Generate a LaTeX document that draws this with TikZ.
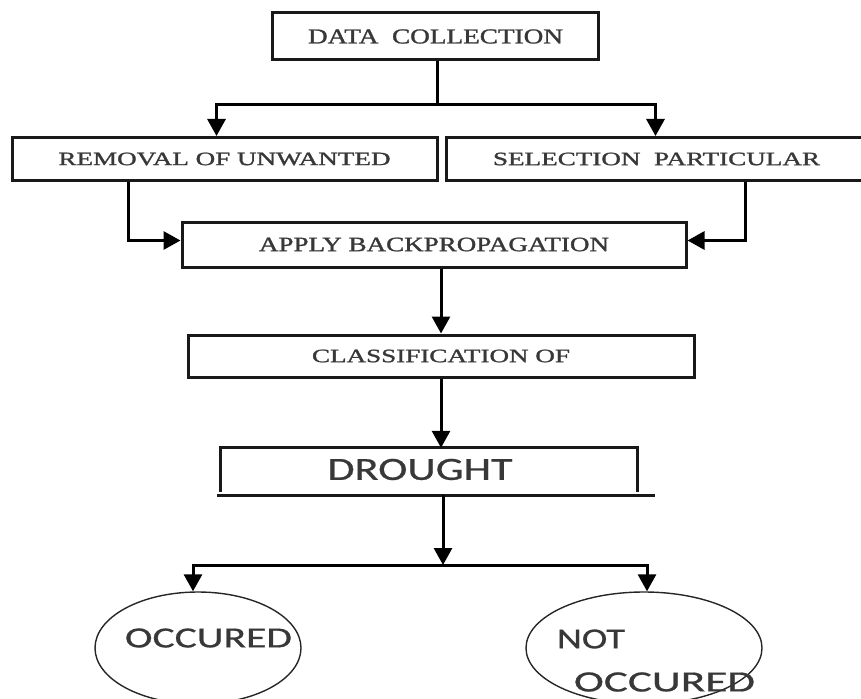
\documentclass[tikz,border=0pt]{standalone}
\usepackage{fontspec}
\setmainfont{Liberation Serif}[FakeBold=1.2]
\newfontfamily\labelsans{Carlito}[FakeBold=0.6]
\usetikzlibrary{arrows.meta,shapes.geometric}
% set a label to an exact width and cap height (in pt)
\newcommand\fittext[3]{\resizebox{#1pt}{#2pt}{#3}}

\begin{document}
\begin{tikzpicture}[x=1pt,y=-1pt,
  box/.style={draw=black!90, line width=3pt, inner sep=0pt, text=black!78},
  boxline/.style={draw=black!90, line width=2.8pt},
  link/.style={draw=black, line width=3pt},
  arr/.style={link, -{Triangle[width=18pt,length=17pt]}},
  oval/.style={ellipse, draw=black!85, line width=1.4pt, inner sep=0pt},
  word/.style={inner sep=0pt, text=black!78}]
\useasboundingbox (0,0) rectangle (861,698);
\clip (0,0) rectangle (861,698);

% process boxes
\node[box, minimum width=326pt, minimum height=47pt] (dc) at (435.5,36.5)
  {\fittext{255}{14}{DATA\ \ COLLECTION}};
\node[box, minimum width=425pt, minimum height=43pt] (rem) at (224.5,159)
  {\fittext{332}{12.5}{REMOVAL OF UNWANTED}};
\node[box, minimum width=429pt, minimum height=43pt] (sel) at (660.5,159)
  {\hspace*{-8pt}\fittext{327}{12.5}{SELECTION\ \ PARTICULAR}};
\node[box, minimum width=504pt, minimum height=45pt] (app) at (434,244.5)
  {\fittext{350}{13.5}{APPLY BACKPROPAGATION}};
\node[box, minimum width=506pt, minimum height=42pt] (cls) at (441,356)
  {\fittext{258}{12.5}{CLASSIFICATION OF}};

% open-bottomed result box
\node[inner sep=0pt, minimum width=416pt, minimum height=47pt] (drought) at (429,471.5) {};
\node[word] (droughtt) at (420,469.5) {\labelsans\fittext{185}{21}{DROUGHT}};
\draw[boxline] ([yshift=3pt]drought.south west) -- (drought.north west)
  -- (drought.north east) -- ([yshift=3pt]drought.south east);
\draw[boxline] ([xshift=-4pt]drought.south west) -- ([xshift=18pt]drought.south east);

% outcome ovals
\node[oval, minimum width=206pt, minimum height=112pt] (occ) at (198,648) {};
\node[oval, minimum width=236pt, minimum height=112pt] (nocc) at (644,648) {};
\node[word] (occt) at (208.5,638) {\labelsans\fittext{167}{19}{OCCURED}};
\node[word] (nott) at (591,639) {\labelsans\fittext{68}{19}{NOT}};
\node[word] (nocct) at (664.5,682) {\labelsans\fittext{181}{19}{OCCURED}};

% connectors
\coordinate (j1) at (437,105);
\draw[link] (dc.south -| j1) -- (j1);
\draw[arr] (j1) -| ([xshift=-8pt]rem.north);
\draw[arr] (j1) -| ([xshift=-5pt]sel.north);
\draw[arr] ([xshift=-96pt]rem.south) |- ([yshift=4pt]app.west);
\draw[arr] ([xshift=85pt]sel.south) |- ([yshift=4pt]app.east);
\draw[arr] (cls.north |- app.south) -- (cls.north);
\draw[arr] (cls.south) -- (cls.south |- drought.north);
\coordinate (j2) at (443,565);
\draw[arr] (drought.south -| j2) -- (j2);
\draw[arr] (j2) -| ([xshift=-5pt]occ.north);
\draw[arr] (j2) -| ([xshift=3pt]nocc.north);
\end{tikzpicture}
\end{document}
